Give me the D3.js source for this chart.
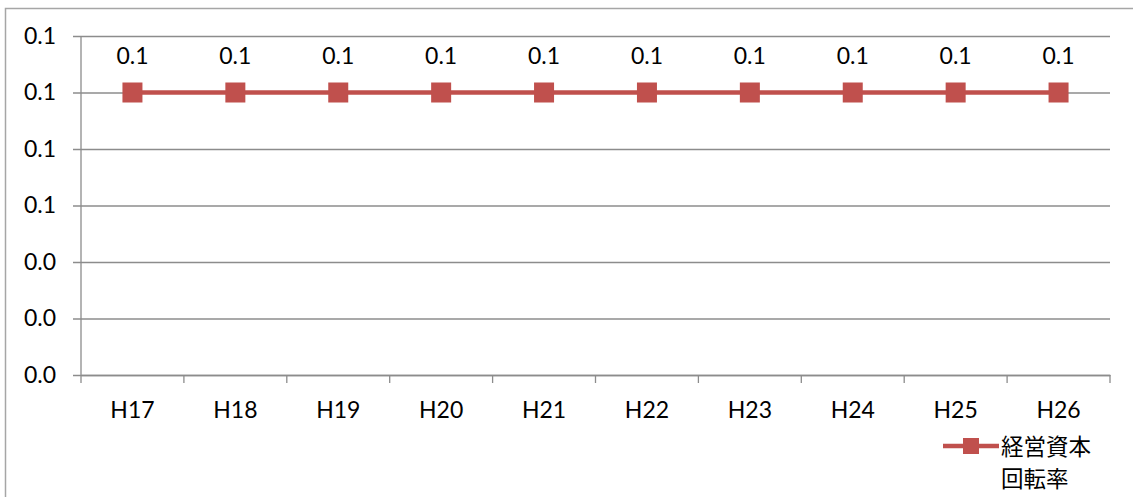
<!DOCTYPE html>
<html>
<head>
<meta charset="utf-8">
<script src="https://cdn.jsdelivr.net/npm/d3@7"></script>
<style>
  html, body { margin: 0; padding: 0; background: #fff; }
  svg { display: block; }
  text { font-family: Lato, "Open Sans", "Noto Sans CJK JP", sans-serif; fill: #000; }
</style>
</head>
<body>
<svg id="chart" width="1133" height="497"></svg>
<script>
// Fiscal years (Heisei) on the category axis
const categories = ["H17", "H18", "H19", "H20", "H21", "H22", "H23", "H24", "H25", "H26"];
// 経営資本回転率 per year
const turnover = [0.1, 0.1, 0.1, 0.1, 0.1, 0.1, 0.1, 0.1, 0.1, 0.1];
// Value axis ticks
const yTicks = [0, 0.02, 0.04, 0.06, 0.08, 0.10, 0.12];
const seriesName = ["経営資本", "回転率"];

const svg = d3.select("#chart");
const color = "#C0504D";
const gridColor = "#8c8c8c";
const fontSize = 23;

// Outer chart frame
svg.append("rect")
  .attr("x", 5.5).attr("y", 8.5)
  .attr("width", 1140).attr("height", 500)
  .attr("fill", "none").attr("stroke", "#a6a6a6").attr("stroke-width", 1.5);

const plot = { left: 81, right: 1110, top: 36, bottom: 375 };

const x = d3.scaleBand().domain(categories).range([plot.left, plot.right]);
const y = d3.scaleLinear().domain([0, 0.12]).range([plot.bottom, plot.top]);
const fmt = d3.format(".1f");

// Horizontal gridlines with left tick stubs
const yAxis = d3.axisLeft(y).tickValues(yTicks).tickFormat(fmt)
  .tickSize(-(plot.right - plot.left)).tickPadding(25);
const gy = svg.append("g").attr("transform", `translate(${plot.left},0)`).call(yAxis);
gy.select(".domain").remove();
gy.selectAll(".tick line").attr("stroke", gridColor).attr("stroke-width", 1.3)
  .attr("x1", -8);
gy.selectAll(".tick text").attr("font-size", fontSize).attr("fill", "#000")
  .style("font-family", "Lato, 'Open Sans', sans-serif");

// Vertical value axis line
svg.append("line")
  .attr("x1", plot.left).attr("x2", plot.left)
  .attr("y1", plot.top).attr("y2", plot.bottom)
  .attr("stroke", gridColor).attr("stroke-width", 1.3);

// Category axis with boundary ticks
const gx = svg.append("g").attr("transform", `translate(0,${plot.bottom})`)
  .call(d3.axisBottom(x).tickSize(0).tickPadding(27));
gx.select(".domain").attr("stroke", gridColor).attr("stroke-width", 1.3);
gx.selectAll(".tick text").attr("font-size", fontSize).attr("fill", "#000")
  .style("font-family", "Lato, 'Open Sans', sans-serif");
const bounds = categories.map(c => x(c)).concat([x(categories[categories.length - 1]) + x.bandwidth()]);
svg.append("g").selectAll("line").data(bounds).join("line")
  .attr("x1", d => d).attr("x2", d => d)
  .attr("y1", plot.bottom).attr("y2", plot.bottom + 8)
  .attr("stroke", gridColor).attr("stroke-width", 1.3);

// Series line
const cx = c => x(c) + x.bandwidth() / 2;
const data = categories.map((c, i) => ({ c, v: turnover[i] }));
svg.append("path")
  .datum(data)
  .attr("d", d3.line().x(d => cx(d.c)).y(d => y(d.v)))
  .attr("fill", "none").attr("stroke", color).attr("stroke-width", 4.5);

// Square markers
const m = 20;
svg.append("g").selectAll("rect").data(data).join("rect")
  .attr("x", d => cx(d.c) - m / 2).attr("y", d => y(d.v) - m / 2)
  .attr("width", m).attr("height", m).attr("fill", color);

// Data labels
svg.append("g").selectAll("text").data(data).join("text")
  .attr("x", d => cx(d.c)).attr("y", d => y(d.v) - 29)
  .attr("text-anchor", "middle").attr("font-size", fontSize)
  .text(d => fmt(d.v));

// Legend: line sample with marker, name wrapped on two lines
const lg = svg.append("g").attr("transform", "translate(943,446)");
lg.append("line").attr("x1", 0).attr("x2", 56).attr("y1", 0).attr("y2", 0)
  .attr("stroke", color).attr("stroke-width", 4.5);
lg.append("rect").attr("x", 28 - 8).attr("y", -8).attr("width", 16).attr("height", 16).attr("fill", color);
lg.append("text")
  .attr("x", 58).attr("y", 9)
  .attr("font-size", 22.5)
  .style("font-family", "'Noto Sans CJK JP', sans-serif")
  .selectAll("tspan").data(seriesName).join("tspan")
  .attr("x", 58).attr("dy", (d, i) => i === 0 ? 0 : 32)
  .text(d => d);
</script>
</body>
</html>
